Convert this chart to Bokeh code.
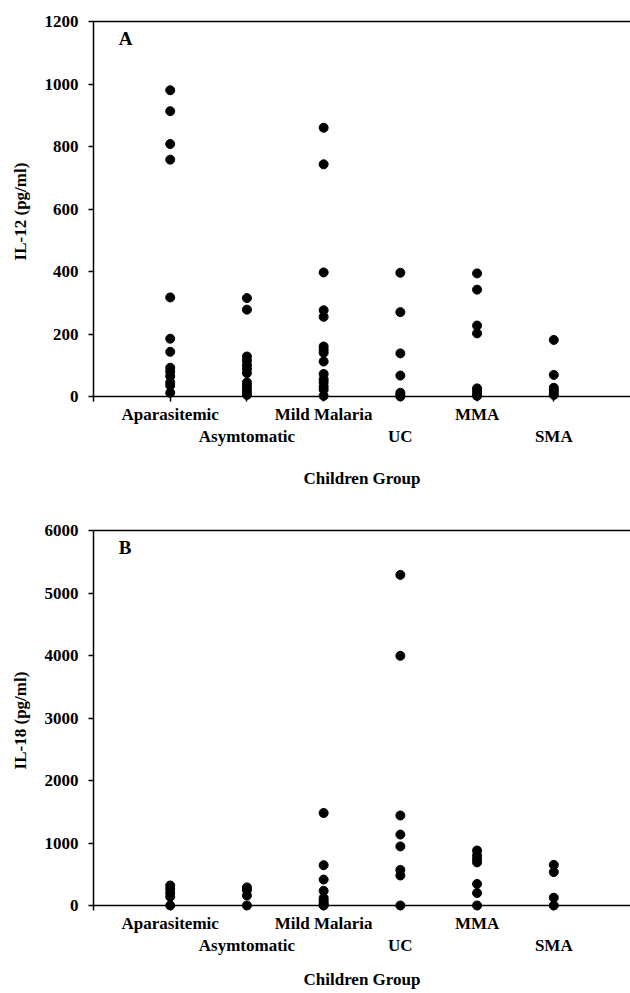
from bokeh.plotting import figure
from bokeh.models import Range1d, FixedTicker, LinearAxis, Span, Label
from bokeh.layouts import column
from bokeh.embed import file_html
from bokeh.resources import INLINE

categories = ["Aparasitemic", "Asymtomatic", "Mild Malaria", "UC", "MMA", "SMA"]

# IL-12 (pg/ml), panel A
il12_aparasitemic = [980, 913, 808, 758, 317, 185, 143, 92, 80, 65, 45, 35, 12]
il12_asymtomatic = [315, 278, 128, 115, 100, 88, 75, 45, 35, 25, 15, 5]
il12_mild_malaria = [860, 743, 397, 276, 255, 160, 150, 140, 112, 72, 55, 45, 32, 22, 2]
il12_uc = [396, 270, 138, 67, 12, 5, 0]
il12_mma = [394, 342, 227, 202, 26, 18, 8, 2]
il12_sma = [181, 69, 28, 20, 12, 5]
il12_ticks = [0, 200, 400, 600, 800, 1000, 1200]

# IL-18 (pg/ml), panel B
il18_aparasitemic = [320, 260, 200, 140, 0]
il18_asymtomatic = [290, 250, 160, 0]
il18_mild_malaria = [1480, 645, 415, 235, 120, 80, 40, 10, 0]
il18_uc = [5290, 3995, 1440, 1135, 945, 570, 480, 0]
il18_mma = [880, 800, 740, 690, 345, 200, 0]
il18_sma = [650, 535, 125, 0]
il18_ticks = [0, 1000, 2000, 3000, 4000, 5000, 6000]

FONT = "Liberation Serif"
FS = "17px"
INK = "black"


def style_text(ax):
    ax.major_label_text_font = FONT
    ax.major_label_text_font_style = "bold"
    ax.major_label_text_font_size = FS
    ax.major_label_text_color = INK
    ax.axis_label_text_font = FONT
    ax.axis_label_text_font_style = "bold"
    ax.axis_label_text_font_size = FS
    ax.axis_label_text_color = INK


def make_panel(groups, ticks, ylabel, letter, height, top, bottom, title_standoff):
    ymax = ticks[-1]
    pad = ymax / 375.0 * 5
    n = len(categories)
    p = figure(width=630, height=height, x_range=Range1d(0, n + 1),
               y_range=Range1d(-pad, ymax), output_backend="svg",
               toolbar_location=None, x_axis_location=None, y_axis_location=None,
               min_border_left=93, min_border_right=0,
               min_border_top=top, min_border_bottom=bottom)
    p.grid.visible = False
    p.outline_line_color = None

    yaxis = LinearAxis(ticker=FixedTicker(ticks=ticks), axis_label=ylabel)
    yaxis.axis_line_width = 1.5
    yaxis.axis_line_color = INK
    yaxis.major_tick_line_width = 1.5
    yaxis.major_tick_line_color = INK
    yaxis.major_tick_in = 0
    yaxis.major_tick_out = 5
    yaxis.minor_tick_line_color = None
    yaxis.major_label_standoff = 10
    yaxis.axis_label_standoff = 12
    style_text(yaxis)
    p.add_layout(yaxis, "left")

    pos = [i + 1 for i in range(n)]
    odd = {pos[i]: (categories[i] if i % 2 == 0 else "") for i in range(n)}
    even = {pos[i]: categories[i] for i in range(n) if i % 2 == 1}

    x1 = LinearAxis(ticker=FixedTicker(ticks=pos), major_label_overrides=odd)
    x1.axis_line_color = None
    x1.major_tick_in = 5
    x1.major_tick_out = 0
    x1.major_tick_line_width = 1.5
    x1.major_tick_line_color = INK
    x1.minor_tick_line_color = None
    x1.major_label_standoff = 3
    style_text(x1)
    p.add_layout(x1, "below")

    x2 = LinearAxis(ticker=FixedTicker(ticks=list(even.keys())),
                    major_label_overrides=even, axis_label="Children Group")
    x2.axis_line_color = None
    x2.major_tick_line_color = None
    x2.minor_tick_line_color = None
    x2.major_tick_in = 0
    x2.major_tick_out = 0
    x2.major_label_standoff = 0
    x2.axis_label_standoff = title_standoff
    style_text(x2)
    p.add_layout(x2, "below")

    top_axis = LinearAxis(ticker=FixedTicker(ticks=[]))
    top_axis.axis_line_width = 1.5
    top_axis.axis_line_color = INK
    top_axis.major_tick_line_color = None
    top_axis.minor_tick_line_color = None
    top_axis.major_label_text_font_size = "0px"
    p.add_layout(top_axis, "above")

    p.add_layout(Span(location=0, dimension="width", line_color=INK, line_width=1.5))

    for i, vals in enumerate(groups):
        p.scatter([pos[i]] * len(vals), vals, size=9, color=INK)

    p.add_layout(Label(x=0.33, y=ymax * 0.955, text=letter, text_font=FONT,
                       text_font_style="bold", text_font_size="19px",
                       text_baseline="middle", text_color=INK))
    return p


pa = make_panel([il12_aparasitemic, il12_asymtomatic, il12_mild_malaria, il12_uc, il12_mma, il12_sma],
                il12_ticks, "IL-12 (pg/ml)", "A", 495, 21, 94, 20)
pb = make_panel([il18_aparasitemic, il18_asymtomatic, il18_mild_malaria, il18_uc, il18_mma, il18_sma],
                il18_ticks, "IL-18 (pg/ml)", "B", 498, 35, 83, 12)

layout = column(pa, pb)
open("out.html", "w").write(file_html(layout, INLINE))
